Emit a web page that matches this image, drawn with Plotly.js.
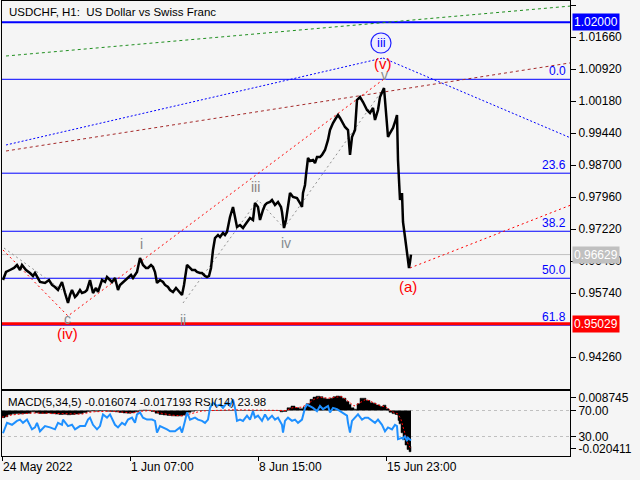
<!DOCTYPE html>
<html><head><meta charset="utf-8">
<script src="https://cdn.plot.ly/plotly-3.0.1.min.js"></script>
<style>html,body{margin:0;padding:0;background:#f5f5f5;}#chart{width:640px;height:480px;}</style>
</head><body><div id="chart"></div>
<script>
// ---- data ----
const chartTitle = "USDCHF, H1:\u00a0 US Dollar vs Swiss Franc";
const xTickIdx = [0, 128, 256, 384];
const xTickText = ["24 May 2022", "1 Jun 07:00", "8 Jun 15:00", "15 Jun 23:00"];
const priceTicks = [1.024, 1.0166, 1.0092, 1.0018, 0.9944, 0.987, 0.9796, 0.9722, 0.9648, 0.9574, 0.9426];

const barIdx = [1,4,8,12,15,18,20,24,28,31,33,38,43,47,50,53,56,60,63,66,68,70,73,75,78,80,83,85,88,91,94,96,100,103,105,108,110,113,116,118,121,124,126,129,131,135,138,141,144,146,149,151,153,155,158,161,163,166,168,171,174,176,180,182,183,185,188,190,193,195,198,200,203,205,207,209,211,213,216,218,221,223,225,228,231,233,235,238,241,243,245,248,251,253,256,258,261,263,265,268,270,273,276,279,280,282,284,286,288,291,295,298,300,301,303,304,306,308,311,313,315,318,320,323,326,328,331,334,336,338,340,343,346,348,350,353,355,358,361,363,365,368,371,373,376,378,380,382,383,385,386,388,391,393,395,396,397,398,400,401,403,405,406,407,408,409];
const closePrice = [0.96041,0.96226,0.96272,0.96319,0.96388,0.96272,0.96388,0.96272,0.96203,0.96134,0.96203,0.95995,0.95972,0.96041,0.95926,0.95879,0.95810,0.95995,0.95740,0.95509,0.95694,0.95810,0.95648,0.95694,0.95810,0.95740,0.95764,0.95810,0.96041,0.95740,0.95856,0.95764,0.96041,0.95995,0.96110,0.96041,0.95995,0.96087,0.95810,0.95926,0.95995,0.96041,0.96087,0.96157,0.96087,0.96226,0.96550,0.96388,0.96319,0.96319,0.96388,0.96342,0.96226,0.95972,0.96041,0.95995,0.95926,0.95879,0.95810,0.95764,0.95856,0.95810,0.95694,0.95926,0.96110,0.96388,0.96319,0.96272,0.96272,0.96226,0.96203,0.96203,0.96134,0.96110,0.96134,0.96319,0.96735,0.97012,0.97082,0.97035,0.97128,0.97082,0.97151,0.97498,0.97729,0.97498,0.97267,0.97313,0.97244,0.97313,0.97382,0.97475,0.97429,0.97822,0.97729,0.97429,0.97660,0.97775,0.97822,0.97845,0.97891,0.97775,0.97845,0.97729,0.97614,0.97244,0.97429,0.97775,0.98053,0.97960,0.97937,0.97822,0.97729,0.98053,0.98238,0.98469,0.98862,0.98793,0.98816,0.98747,0.98885,0.98885,0.98932,0.99047,0.99279,0.99510,0.99672,0.99787,0.99857,0.99787,0.99695,0.99579,0.99510,0.98932,0.99348,0.99510,1.00204,1.00273,1.00157,1.00065,0.99972,0.99903,1.00019,0.99741,0.99972,1.00273,1.00365,1.00481,1.00204,0.99625,0.99348,0.99440,0.99556,0.99695,0.99857,0.98816,0.98238,0.97891,0.98053,0.97382,0.97035,0.96665,0.96457,0.96319,0.96457,0.96629];

const currentPrice = 0.96629;
const supportPrice = 0.95029;
const resistancePrice = 1.02000;
const fibLabels = ["0.0", "23.6", "38.2", "50.0", "61.8"];
const fibPrices = [1.00682, 0.98511, 0.97168, 0.96081, 0.94996];

// trend lines (bar index, price)
const greenIdx = [4, 568], greenPrice = [1.01221, 1.02375];
const blueUpIdx = [4, 381], blueUpPrice = [0.99163, 1.01175];
const blueDownIdx = [381, 568], blueDownPrice = [1.01175, 0.99333];
const brownIdx = [4, 568], brownPrice = [0.99024, 1.01061];
const redWaveIdx = [1, 66, 382], redWavePrice = [0.96735, 0.95209, 1.00689];
const redFwdIdx = [408, 568], redFwdPrice = [0.96319, 0.97767];
const grayAIdx = [2, 60], grayAPrice = [0.96781, 0.95810];
const grayWaveIdx = [181, 256, 282, 382], grayWavePrice = [0.95509, 0.97891, 0.97244, 1.00481];

// wave labels
const waveText = ["(iv)", "c", "i", "ii", "iii", "iv", "(a)", "(v)", "v"];
const waveIdx = [65, 65, 139, 181, 253, 284, 406, 381, 382];
const wavePrice = [0.94815, 0.95139, 0.96874, 0.95116, 0.98192, 0.96897, 0.95902, 1.01059, 1.00790];
const waveColor = ["#ff0000", "#858a90", "#8a8585", "#858a90", "#8a8080", "#858a90", "#ff0000", "#ff0000", "#8a8a8a"];
const circledText = "iii", circledIdx = 379, circledPrice = 1.01522;

// indicator window
const indicatorText = "MACD(5,34,5) -0.016074 -0.017193 RSI(14) 23.98";
const macdMax = 0.008745, macdMin = -0.020411;
const macdIdx = [0,3,6,10,14,18,22,26,29,33,37,41,45,49,53,57,61,65,69,73,77,81,85,89,93,97,101,105,109,113,117,121,125,129,133,137,141,145,149,153,157,161,165,169,173,177,181,185,189,193,200,220,250,278,281,285,289,293,297,301,304,308,311,314,318,321,324,328,331,334,337,340,344,347,349,352,355,358,361,364,368,371,374,378,381,384,387,390,393,395,396,397,399,401,403,405,407,409];
const macdHist = [-0.0032,-0.0028,-0.0018,-0.0015,-0.0014,-0.0015,-0.0013,-0.0012,-0.0006,-0.0010,-0.0013,-0.0013,-0.0011,-0.0014,-0.0016,-0.0018,-0.0017,-0.0019,-0.0018,-0.0016,-0.0014,-0.0009,-0.0004,-0.0002,-0.0003,-0.0002,-0.0001,-0.0003,-0.0004,-0.0006,-0.0009,-0.0011,-0.0012,-0.0010,-0.0006,0.0001,0.0002,0.0001,-0.0004,-0.0012,-0.0018,-0.0020,-0.0022,-0.0024,-0.0025,-0.0024,-0.0020,-0.0008,-0.0003,0.0000,0.0000,0.0000,0.0000,-0.0006,-0.0004,0.0012,0.0020,0.0012,0.0008,0.0015,0.0030,0.0050,0.0060,0.0064,0.0062,0.0055,0.0052,0.0055,0.0062,0.0065,0.0064,0.0055,0.0040,0.0027,0.0012,0.0006,0.0030,0.0055,0.0055,0.0045,0.0035,0.0033,0.0025,0.0018,0.0024,0.0008,-0.0008,-0.0014,-0.0018,-0.0020,-0.0045,-0.0060,-0.0100,-0.0130,-0.0155,-0.0175,-0.0185,-0.0161];
const sigIdx = [0,10,20,30,40,50,60,70,80,90,100,110,120,130,140,150,160,170,180,190,200,230,270,284,290,300,306,312,318,326,334,340,346,352,358,364,370,378,384,390,396,399,401,404,406,408,409];
const sigVal = [-0.0030,-0.0020,-0.0015,-0.0011,-0.0012,-0.0013,-0.0016,-0.0018,-0.0016,-0.0006,-0.0003,-0.0003,-0.0007,-0.0011,-0.0003,0.0000,-0.0013,-0.0021,-0.0024,-0.0012,-0.0002,0.0003,0.0003,0.0000,0.0012,0.0015,0.0030,0.0050,0.0060,0.0055,0.0060,0.0062,0.0042,0.0020,0.0035,0.0050,0.0038,0.0022,0.0015,-0.0005,-0.0016,-0.0040,-0.0073,-0.0123,-0.0150,-0.0165,-0.0172];
const rsiIdx = [1,5,10,15,18,21,25,30,33,35,38,43,48,53,56,60,61,66,70,73,78,83,86,88,91,95,98,101,105,108,113,116,120,123,126,130,133,135,138,141,145,150,153,155,158,161,165,168,173,178,180,183,185,188,193,196,200,203,206,208,211,215,218,221,225,228,231,233,235,238,241,245,248,251,253,256,260,263,266,270,273,276,280,281,283,286,290,293,296,300,303,305,308,311,315,318,321,326,328,331,335,338,341,345,346,348,350,353,356,360,363,366,370,373,376,380,383,386,390,393,395,396,400,401,403,405,406,408,409];
const rsiVal = [35,51,48,54,56,51,56,41,44,51,38,46,44,41,51,48,56,46,48,41,46,46,56,59,48,41,46,64,59,64,48,44,51,48,56,59,51,64,67,59,56,56,54,36,46,44,41,38,38,44,36,54,67,56,59,56,54,51,56,74,82,77,79,74,82,77,87,74,54,56,54,62,56,69,59,62,54,64,56,62,56,59,48,36,54,59,54,56,51,56,74,79,77,74,69,77,72,77,67,74,72,69,67,62,51,36,54,59,64,56,59,59,54,51,56,48,38,44,41,48,46,26,28,26,31,23,28,26,24];
const rsiLevels = [70, 30];

// ---- build ----
const F = "Liberation Sans, Arial, sans-serif";
const bg = "#f5f5f5";
const xRange = [0, 568];
const priceRange = [0.93520, 1.02493];

function seg(x, y, color, dash, w) {
  return {x: x, y: y, type: "scatter", mode: "lines", xaxis: "x", yaxis: "y",
    line: {color: color, dash: dash, width: w || 1}, hoverinfo: "skip"};
}
const traces = [
  seg(greenIdx, greenPrice, "#1f8f1f", "3px,3px"),
  seg(brownIdx, brownPrice, "#a52a2a", "3px,3px"),
  seg(blueUpIdx, blueUpPrice, "#0000ff", "2px,2px"),
  seg(blueDownIdx, blueDownPrice, "#0000ff", "2px,2px"),
  seg(redWaveIdx, redWavePrice, "#ff0000", "2px,3px"),
  seg(redFwdIdx, redFwdPrice, "#ff0000", "2px,3px"),
  seg(grayAIdx, grayAPrice, "#909090", "2px,3px"),
  seg(grayWaveIdx, grayWavePrice, "#909090", "2px,3px"),
  {x: barIdx, y: closePrice, type: "scatter", mode: "lines", xaxis: "x", yaxis: "y",
    line: {color: "#000000", width: 2.5}, hoverinfo: "skip"},
  {x: macdIdx, y: macdHist, type: "scatter", mode: "lines", xaxis: "x2", yaxis: "y2",
    fill: "tozeroy", fillcolor: "#000000", line: {color: "#000000", width: 0.5, shape: "hv"}, hoverinfo: "skip"},
  {x: sigIdx, y: sigVal, type: "scatter", mode: "lines", xaxis: "x2", yaxis: "y2",
    line: {color: "#ff0000", width: 1, dash: "2px,2px"}, hoverinfo: "skip"},
  {x: rsiIdx, y: rsiVal, type: "scatter", mode: "lines", xaxis: "x2", yaxis: "y3",
    line: {color: "#1e90ff", width: 2}, hoverinfo: "skip"}
];

const shapes = [];
function hline(yref, y, color, w, dash) {
  shapes.push({type: "line", xref: "paper", x0: 0, x1: 1, yref: yref, y0: y, y1: y,
    line: {color: color, width: w, dash: dash || "solid"}, layer: "below"});
}
hline("y", currentPrice, "#c0c0c0", 1);
fibPrices.forEach(p => hline("y", p, "#0000ff", 1));
hline("y", resistancePrice, "#0000ff", 2);
hline("y", supportPrice, "#ff0000", 3);
rsiLevels.forEach(v => hline("y3", v, "#c0c0c0", 1, "3px,3px"));
shapes.push({type: "circle", xref: "x", yref: "y", xsizemode: "pixel", ysizemode: "pixel",
  xanchor: circledIdx, yanchor: circledPrice, x0: -10, x1: 10, y0: -10, y1: 10,
  line: {color: "#2020ff", width: 1.2}, fillcolor: "#eeeeff", layer: "above"});

const annotations = [];
annotations.push({xref: "paper", yref: "paper", x: 0, y: 1, xanchor: "left", yanchor: "top",
  xshift: 5, yshift: -3, text: chartTitle, showarrow: false, font: {family: F, size: 11.5, color: "#000"}});
annotations.push({xref: "paper", yref: "paper", x: 0, y: 0.14286, xanchor: "left", yanchor: "top",
  xshift: 4, yshift: -3, text: indicatorText, showarrow: false, font: {family: F, size: 11.5, color: "#000"}});
fibLabels.forEach((t, i) => annotations.push({xref: "paper", yref: "y", x: 1, y: fibPrices[i],
  xanchor: "right", yanchor: "bottom", xshift: -2, yshift: -1, text: t, showarrow: false,
  font: {family: F, size: 12, color: "#0000ff"}}));
function box(y, txt, col) {
  annotations.push({xref: "paper", yref: "y", x: 1, y: y, xanchor: "left", yanchor: "middle",
    xshift: 2, text: txt, showarrow: false, bgcolor: col, borderpad: 1,
    font: {family: F, size: 12, color: "#ffffff"}});
}
box(resistancePrice, resistancePrice.toFixed(5), "#0000ff");
box(currentPrice, currentPrice.toFixed(5), "#c0c0c0");
box(supportPrice, supportPrice.toFixed(5), "#ff0000");
waveText.forEach((t, i) => annotations.push({xref: "x", yref: "y", x: waveIdx[i], y: wavePrice[i],
  xanchor: "center", yanchor: "middle", text: t, showarrow: false,
  font: {family: F, size: t.startsWith("(") ? 15 : 14, color: waveColor[i]}}));
annotations.push({xref: "x", yref: "y", x: circledIdx, y: circledPrice, xanchor: "center", yanchor: "middle",
  text: circledText, showarrow: false, font: {family: F, size: 13, color: "#0000ff"}});

const axFont = {family: F, size: 12, color: "#000"};
const layout = {
  width: 640, height: 480,
  margin: {l: 2, r: 70, t: 1, b: 24, pad: 0},
  paper_bgcolor: bg, plot_bgcolor: bg,
  showlegend: false,
  xaxis: {domain: [0, 1], range: xRange, anchor: "y", showline: true, mirror: true, linecolor: "#000",
    linewidth: 1, showgrid: false, zeroline: false, showticklabels: false, ticks: ""},
  yaxis: {domain: [0.14725, 1], range: priceRange, side: "right", anchor: "x", showline: true, mirror: true,
    linecolor: "#000", linewidth: 1, showgrid: false, zeroline: false, tickvals: priceTicks,
    tickformat: ".5f", ticks: "outside", ticklen: 5, tickcolor: "#000", tickfont: axFont},
  xaxis2: {domain: [0, 1], range: xRange, anchor: "y2", showline: true, mirror: true, linecolor: "#000",
    linewidth: 1, showgrid: false, zeroline: false, tickvals: xTickIdx, ticktext: xTickText,
    ticks: "outside", ticklen: 4, tickcolor: "#000", ticklabelposition: "outside right", tickfont: axFont},
  yaxis2: {domain: [0, 0.14286], range: [macdMin, macdMax], side: "right", anchor: "x2", showline: true,
    mirror: true, linecolor: "#000", linewidth: 1, showgrid: false, zeroline: false,
    tickvals: [macdMax - 0.00314, macdMin + 0.00314], ticktext: [macdMax.toFixed(6), macdMin.toFixed(6)],
    ticks: "outside", ticklen: 5, tickcolor: "#000", tickfont: axFont},
  yaxis3: {range: [0, 100], overlaying: "y2", side: "right", anchor: "x2", showline: false, showgrid: false,
    zeroline: false, tickvals: rsiLevels, ticktext: rsiLevels.map(v => v.toFixed(2)),
    ticks: "outside", ticklen: 5, tickcolor: "#000", tickfont: axFont},
  shapes: shapes, annotations: annotations
};
Plotly.newPlot("chart", traces, layout, {staticPlot: true, displayModeBar: false});
</script></body></html>
